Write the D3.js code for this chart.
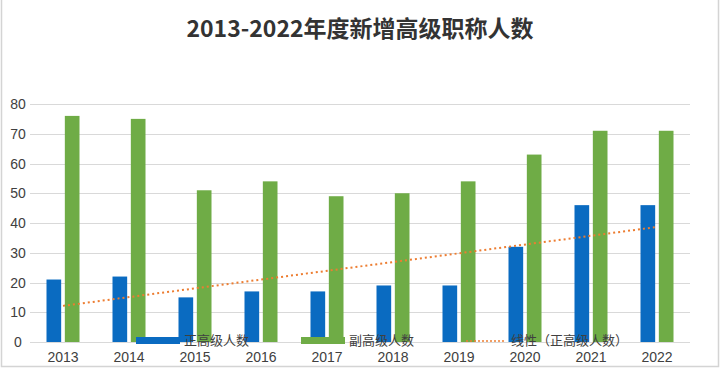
<!DOCTYPE html>
<html>
<head>
<meta charset="utf-8">
<script src="https://cdn.jsdelivr.net/npm/d3@7"></script>
<style>
    body { margin: 0; background: #fff; }
    #chart { width: 720px; height: 369px; }
</style>
</head>
<body>
<div id="chart"></div>
<script>
// 2013-2022 new senior title counts
const years = ['2013', '2014', '2015', '2016', '2017', '2018', '2019', '2020', '2021', '2022'];
const seriesNames = ['正高级人数', '副高级人数'];
const zhengGao = [21, 22, 15, 17, 17, 19, 19, 32, 46, 46];
const fuGao = [76, 75, 51, 54, 49, 50, 54, 63, 71, 71];
const yTicks = [0, 10, 20, 30, 40, 50, 60, 70, 80];
const trendName = '线性（正高级人数）';

const colors = ['#0a6bc1', '#6fac46'];
const trendColor = '#ed7d31';
const tickFont = '"Liberation Sans Narrow", "Liberation Sans", Arial, sans-serif';
const cjkFont = '"Noto Sans CJK SC", "Noto Sans", sans-serif';

function drawChart() {
    const W = 720, H = 369;
    const margin = { top: 104, right: 30, bottom: 27, left: 30 };
    const width = W - margin.left - margin.right;
    const height = H - margin.top - margin.bottom;

    const svg = d3.select('#chart')
        .append('svg')
        .attr('width', W)
        .attr('height', H);

    // outer frame (left, right, bottom)
    svg.append('path')
        .attr('d', `M1.5,0 V366.5 H718.5 V0`)
        .attr('fill', 'none')
        .attr('stroke', '#d4d4d4')
        .attr('stroke-width', 1.5);

    svg.append('text')
        .attr('x', W / 2)
        .attr('y', 37)
        .attr('text-anchor', 'middle')
        .style('font-family', cjkFont)
        .style('font-weight', 'bold')
        .style('font-size', '23px')
        .style('fill', '#333')
        .text('2013-2022年度新增高级职称人数');

    const g = svg.append('g')
        .attr('transform', `translate(${margin.left},${margin.top})`);

    const x0 = d3.scaleBand()
        .domain(years)
        .range([0, width])
        .paddingInner(0.5)
        .paddingOuter(0.25);

    const x1 = d3.scaleBand()
        .domain(seriesNames)
        .range([0, x0.bandwidth()])
        .paddingInner(0.2);

    const y = d3.scaleLinear()
        .domain([0, 80])
        .range([height, 0]);

    // gridlines
    g.append('g')
        .selectAll('line')
        .data(yTicks)
        .enter()
        .append('line')
        .attr('x1', 0)
        .attr('x2', width)
        .attr('y1', d => Math.round(y(d)) + 0.5)
        .attr('y2', d => Math.round(y(d)) + 0.5)
        .attr('stroke', '#d9d9d9')
        .attr('stroke-width', 1.2);

    // y tick labels
    g.append('g')
        .selectAll('text')
        .data(yTicks)
        .enter()
        .append('text')
        .attr('x', -12)
        .attr('y', d => y(d) + 5)
        .attr('text-anchor', 'middle')
        .style('font-family', tickFont)
        .style('font-size', '14px')
        .style('fill', '#404040')
        .text(d => d);

    // bars
    const groups = g.selectAll('.year-group')
        .data(years)
        .enter()
        .append('g')
        .attr('class', 'year-group')
        .attr('transform', d => `translate(${x0(d)},0)`);

    groups.selectAll('rect')
        .data((d, i) => [
            { key: seriesNames[0], value: zhengGao[i] },
            { key: seriesNames[1], value: fuGao[i] }
        ])
        .enter()
        .append('rect')
        .attr('x', d => x1(d.key))
        .attr('y', d => y(d.value))
        .attr('width', x1.bandwidth())
        .attr('height', d => height - y(d.value))
        .attr('fill', (d, i) => colors[i]);

    // linear trendline of 正高级人数
    const n = zhengGao.length;
    const xs = d3.range(1, n + 1);
    const mx = d3.mean(xs), my = d3.mean(zhengGao);
    const slope = d3.sum(xs, (v, i) => (v - mx) * (zhengGao[i] - my)) / d3.sum(xs, v => (v - mx) * (v - mx));
    const intercept = my - slope * mx;
    const cx = d => x0(d) + x0.bandwidth() / 2;

    g.append('line')
        .attr('x1', cx(years[0]))
        .attr('y1', y(intercept + slope * 1))
        .attr('x2', cx(years[n - 1]))
        .attr('y2', y(intercept + slope * n))
        .attr('stroke', trendColor)
        .attr('stroke-width', 2)
        .attr('stroke-dasharray', '2,3');

    // x labels
    g.append('g')
        .selectAll('text')
        .data(years)
        .enter()
        .append('text')
        .attr('x', d => cx(d))
        .attr('y', height + 20)
        .attr('text-anchor', 'middle')
        .style('font-family', tickFont)
        .style('font-size', '14px')
        .style('fill', '#404040')
        .text(d => d);

    // legend (sits over the axis, as in the original)
    const legend = svg.append('g');
    const items = [
        { name: seriesNames[0], type: 'rect', color: colors[0], x: 136, tx: 184 },
        { name: seriesNames[1], type: 'rect', color: colors[1], x: 301, tx: 349 },
        { name: trendName, type: 'line', color: trendColor, x: 466, tx: 511 }
    ];
    items.forEach(it => {
        if (it.type === 'rect') {
            legend.append('rect')
                .attr('x', it.x)
                .attr('y', 337)
                .attr('width', 44)
                .attr('height', 7)
                .attr('fill', it.color);
        } else {
            legend.append('line')
                .attr('x1', it.x)
                .attr('x2', it.x + 38)
                .attr('y1', 341)
                .attr('y2', 341)
                .attr('stroke', it.color)
                .attr('stroke-width', 1.5)
                .attr('stroke-dasharray', '2,2');
        }
        legend.append('text')
            .attr('x', it.tx)
            .attr('y', 345)
            .style('font-family', cjkFont)
            .style('font-size', '13px')
            .style('fill', '#404040')
            .text(it.name);
    });
}

drawChart();
</script>
</body>
</html>
